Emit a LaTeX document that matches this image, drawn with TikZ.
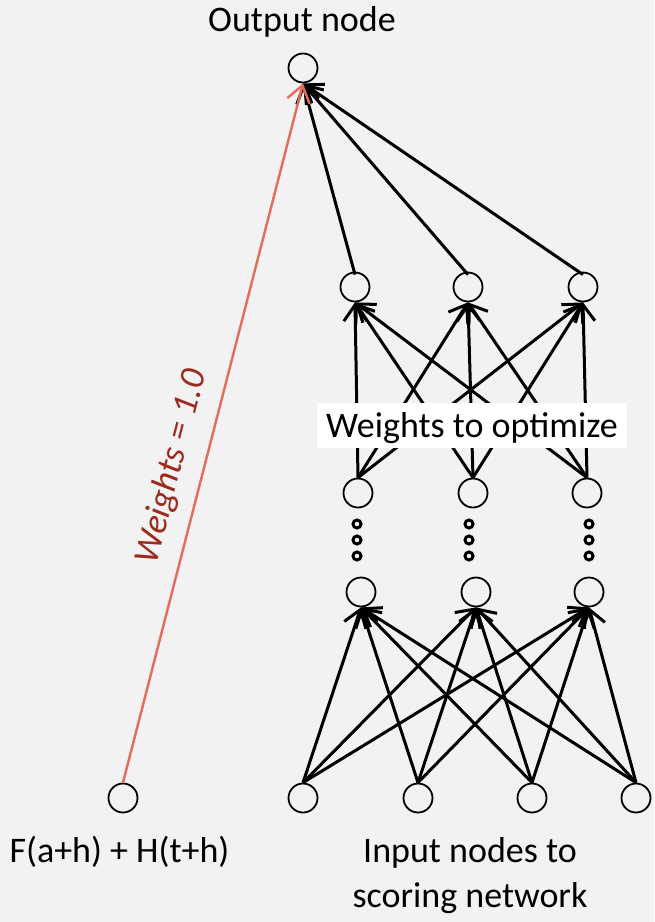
\documentclass[tikz,border=0pt]{standalone}
\usepackage{fontspec}
\setmainfont{Carlito}
\usetikzlibrary{arrows.meta}
\definecolor{bg}{HTML}{F2F2F2}
\definecolor{wline}{HTML}{E46C5A}
\definecolor{wtext}{HTML}{9C2B1E}
\begin{document}
\begin{tikzpicture}[x=1pt,y=-1pt,
  neuron/.style={circle,draw,line width=1.8pt,minimum size=29pt,inner sep=0pt},
  link/.style={line width=3pt,-{Straight Barb[length=16pt,width=23pt]}},
  fixedlink/.style={wline,line width=2.4pt,-{Straight Barb[length=16pt,width=23pt]}},
  lbl/.style={font=\fontsize{36}{45}\selectfont,anchor=base,inner sep=0pt}]
% canvas
\fill[bg] (0,0) rectangle (654,922);
\useasboundingbox (0,0) rectangle (654,922);

% output node
\node[neuron] (out) at (303,68) {};
\node[lbl] (outlbl) at (302,31) {Output node};

% hidden layers
\foreach \i/\x in {1/355,2/468,3/583} \node[neuron] (a\i) at (\x,287) {};
\foreach \i/\x in {1/358,2/473,3/587} \node[neuron] (b\i) at (\x,493) {};
\foreach \i/\x in {1/361,2/476,3/589} \node[neuron] (c\i) at (\x,592) {};

% input layer and the fixed score node
\foreach \i/\x in {1/303,2/418,3/532,4/636} \node[neuron] (d\i) at (\x,798) {};
\node[neuron] (f) at (123,798) {};

% fully connected weights
\foreach \j in {1,2,3} \foreach \i in {1,2,3,4} \draw[link] (d\i.north) -- (c\j.south);
\foreach \j in {1,2,3} \foreach \i in {1,2,3} \draw[link] (b\i.north) -- (a\j.south);
\foreach \i in {1,2,3} \draw[link] ([yshift=-3pt]a\i.north) -- (out.south);

% fixed connection
\draw[fixedlink] (f.north) -- (out.south);
\node[font=\fontsize{36}{45}\selectfont\itshape,text=wtext,rotate=75.6,inner sep=0pt] (wfix) at (172,467) {Weights = 1.0};

% elided layers
\foreach \x in {357,469,589} \foreach \y in {524,540,556}
  \draw[line width=3pt] (\x,\y) circle (4pt);

% label over the trainable weights
\node[fill=white,minimum width=310pt,minimum height=45pt,inner sep=0pt,
      text height=23pt,text depth=0pt,font=\fontsize{36}{45}\selectfont] (wopt) at (472,425.5) {Weights to optimize};

% bottom labels
\node[lbl] (flbl) at (119.5,862) {F(a+h) + H(t+h)};
\node[lbl] (inlbl1) at (470,862) {Input nodes to};
\node[lbl] (inlbl2) at (470,907) {scoring network};
\end{tikzpicture}
\end{document}
